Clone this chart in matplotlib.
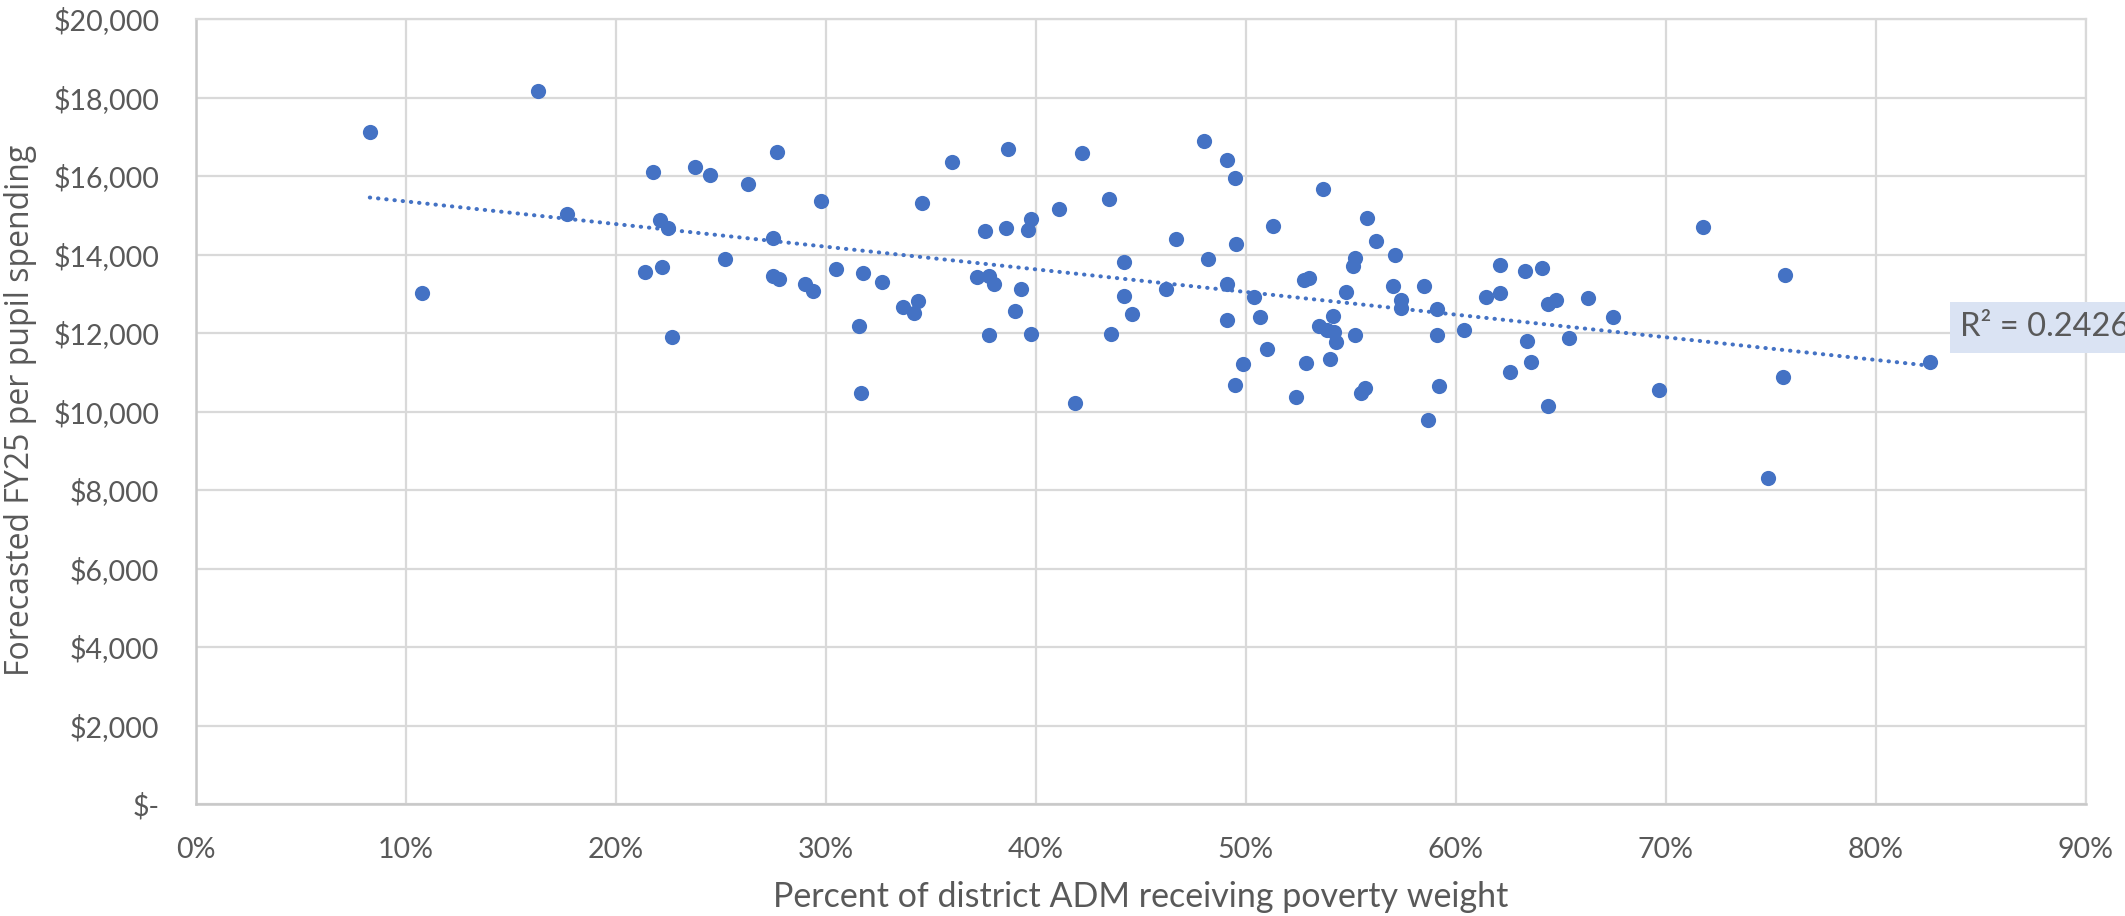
import matplotlib
matplotlib.use("Agg")
import matplotlib.pyplot as plt
import numpy as np
from matplotlib.ticker import FuncFormatter, MultipleLocator

# Percent of district ADM receiving poverty weight (%)
poverty_pct = [
    8.3, 16.3, 10.8, 17.7, 21.8, 23.8, 22.1, 22.5, 21.4, 22.2, 22.7,
    24.5, 26.3, 27.7, 29.8, 27.5, 25.2, 27.5, 27.8, 29.0, 29.4,
    30.5, 31.8, 32.7, 31.6, 31.7, 33.7, 34.2, 34.4, 34.6, 36.0,
    37.6, 37.2, 37.8, 38.0, 37.8, 38.6, 38.7, 39.3, 39.0, 39.65, 39.8, 39.8,
    41.1, 42.2, 41.9, 43.5, 44.2, 44.2, 44.6, 43.6, 46.7, 46.2,
    48.0, 49.1, 49.5, 48.2, 49.55, 49.1, 50.4, 49.1, 50.7, 51.0, 49.9, 49.5,
    51.3, 53.7, 52.4, 52.9, 54.0, 52.8, 53.0, 53.5, 53.9, 54.15, 54.2, 54.3, 54.8,
    55.8, 56.2, 57.1, 55.2, 55.1, 57.0, 57.4, 57.4, 58.5, 59.1, 55.2, 59.1, 60.4,
    55.7, 55.5, 59.2, 58.7,
    62.1, 63.3, 64.1, 61.45, 62.1, 64.4, 64.8, 66.3, 67.5, 63.4, 65.4, 62.6, 63.6, 64.4,
    69.7, 71.8, 75.7, 75.6, 82.6, 74.9,
]

# Forecasted FY25 per pupil spending ($)
spending = [
    17120, 18170, 13020, 15040, 16100, 16220, 14870, 14665, 13550, 13670, 11900,
    16015, 15790, 16600, 15370, 14430, 13880, 13440, 13365, 13245, 13060,
    13630, 13525, 13300, 12190, 10460, 12675, 12505, 12820, 15310, 16365,
    14600, 13435, 13450, 13245, 11945, 14680, 16680, 13120, 12555, 14615, 14910, 11970,
    15150, 16595, 10220, 15410, 13815, 12940, 12475, 11970, 14385, 13125,
    16880, 16405, 15950, 13890, 14275, 13245, 12915, 12335, 12410, 11580, 11200, 10680,
    14715, 15660, 10375, 11240, 11325, 13350, 13405, 12185, 12075, 12430, 12030, 11760, 13035,
    14920, 14350, 13975, 13915, 13705, 13205, 12840, 12625, 13205, 12600, 11955, 11955, 12075,
    10590, 10460, 10645, 9790,
    13745, 13585, 13655, 12925, 13015, 12735, 12845, 12890, 12405, 11800, 11885, 11005, 11265, 10130,
    10560, 14700, 13465, 10890, 11250, 8315,
]

r2_label = "R² = 0.2426"
x_label = "Percent of district ADM receiving poverty weight"
y_label = "Forecasted FY25 per pupil spending"

W, H = 2125, 916
fig = plt.figure(figsize=(W / 100, H / 100), dpi=100)
ax = fig.add_axes([195.5 / W, 1 - 804 / H, (2085.5 - 195.5) / W, (804 - 19) / H])

blue = "#4472C4"
grey_txt = "#595959"
grid_c = "#D9D9D9"

x = np.array(poverty_pct) / 100.0
y = np.array(spending, dtype=float)

ax.scatter(x, y, s=120, color=blue, zorder=3, linewidths=0)

# linear trendline
slope, intercept = np.polyfit(x, y, 1)
xt = np.array([x.min(), x.max()])
ax.plot(xt, slope * xt + intercept, color=blue, lw=2.9,
        linestyle=(0, (0.1, 1.95)), dash_capstyle="round", zorder=2)

ax.set_xlim(0, 0.9)
ax.set_ylim(0, 20000)
ax.xaxis.set_major_locator(MultipleLocator(0.1))
ax.yaxis.set_major_locator(MultipleLocator(2000))
ax.xaxis.set_major_formatter(FuncFormatter(lambda v, p: f"{v*100:.0f}%"))
ax.yaxis.set_major_formatter(FuncFormatter(lambda v, p: "$-" if abs(v) < 1e-9 else f"${v:,.0f}"))

ax.grid(True, color=grid_c, lw=1.6, zorder=0)
ax.set_axisbelow(True)
for side in ["top", "right"]:
    ax.spines[side].set_color(grid_c)
    ax.spines[side].set_linewidth(1.6)
for side in ["left", "bottom"]:
    ax.spines[side].set_color("#C8C8C8")
    ax.spines[side].set_linewidth(1.8)

ax.tick_params(axis="both", length=0, colors=grey_txt, labelsize=20.5)
ax.tick_params(axis="x", pad=24)
ax.tick_params(axis="y", pad=26)
for lab in ax.get_xticklabels() + ax.get_yticklabels():
    lab.set_family(["Lato", "DejaVu Sans"])

fig.text(1141 / W, 1 - 897 / H, x_label, ha="center", va="center",
         fontsize=24.5, color=grey_txt, family=["Lato", "DejaVu Sans"])
fig.text(21 / W, 1 - 410 / H, y_label, ha="center", va="center", rotation=90,
         fontsize=23, color=grey_txt, family=["Open Sans", "DejaVu Sans"])

fig.text(1960 / W, 1 - 327.5 / H, r2_label, ha="left", va="center",
         fontsize=23.5, color=grey_txt, family=["Lato", "DejaVu Sans"],
         bbox=dict(boxstyle="square,pad=0.32", fc="#DAE3F3", ec="none"))

fig.savefig("out.png", dpi=100)
